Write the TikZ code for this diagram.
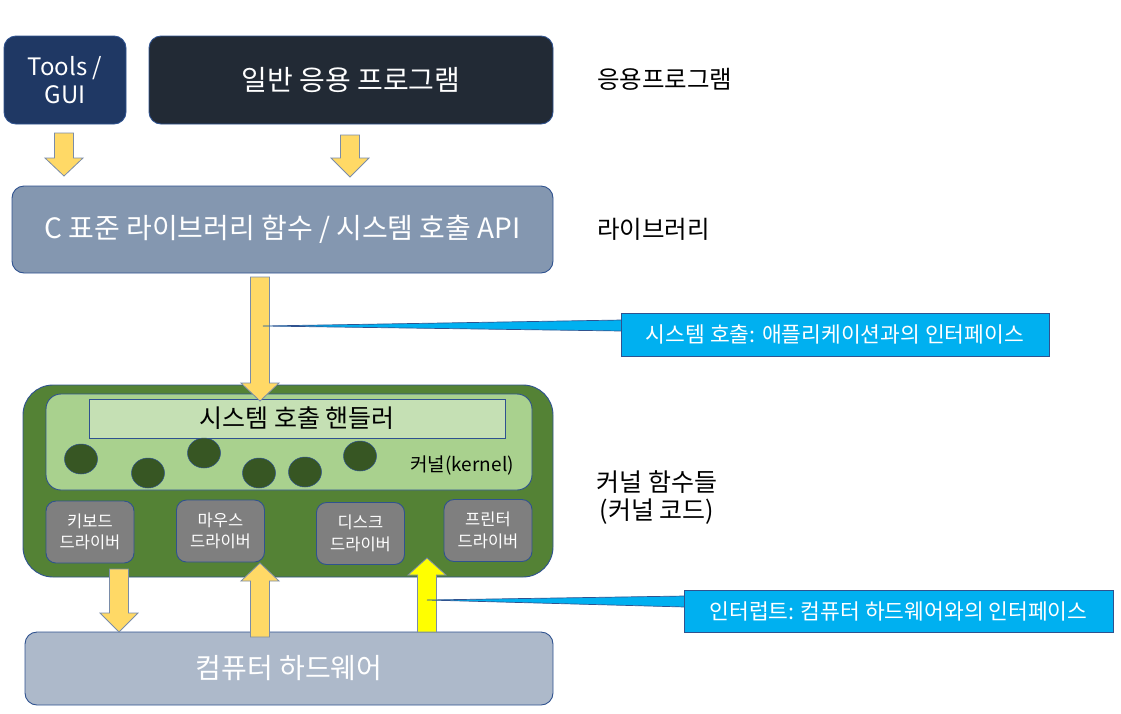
\documentclass[tikz,border=0pt]{standalone}
\usepackage{fontspec}
\setmainfont{Noto Sans CJK KR}
\usetikzlibrary{shapes.geometric}
\definecolor{toolsblue}{HTML}{1F3864}
\definecolor{appdark}{HTML}{222A35}
\definecolor{libgray}{HTML}{8497B0}
\definecolor{kgreen}{HTML}{548235}
\definecolor{igreen}{HTML}{A9D18E}
\definecolor{hgreen}{HTML}{C5E0B4}
\definecolor{dgreen}{HTML}{375623}
\definecolor{drvgray}{HTML}{7F7F7F}
\definecolor{hwgray}{HTML}{ADB9CA}
\definecolor{ayellow}{HTML}{FFD966}
\definecolor{byellow}{HTML}{FFFF00}
\definecolor{aborder}{HTML}{7A8CA8}
\definecolor{callblue}{HTML}{00B0F0}
\definecolor{edgeblue}{HTML}{2F528F}
\newcommand\fs[2]{\fontsize{#1pt}{#2\dimexpr#1pt\relax}\selectfont}
\newcommand\blkarrow[5]{%
  \draw[arrowline, fill=#5] (#1-9.5,#2) -- (#1+9.5,#2) -- (#1+9.5,#3) -- (#1+19,#3) -- (#1,#4) -- (#1-19,#3) -- (#1-9.5,#3) -- cycle;}
\begin{document}
\begin{tikzpicture}[x=1pt,y=-1pt,
  box/.style={draw=edgeblue, line width=0.9pt, rounded corners=12pt, inner sep=0pt, align=center, text=white},
  drv/.style={box, fill=drvgray, rounded corners=10pt, minimum width=88pt, minimum height=62pt, font=\fs{16.5}{1.3}, text=white},
  lbl/.style={inner sep=0pt, text=black, font=\fs{24.5}{1.2}},
  arrowline/.style={draw=aborder, line width=0.8pt},
  callbox/.style={draw=edgeblue, line width=1pt, fill=callblue, inner sep=0pt, text=white, font=\fs{21.5}{1.2}},
  wedge/.style={fill=callblue, draw=edgeblue, line width=0.7pt},
  dot/.style={ellipse, fill=dgreen, draw=edgeblue, line width=0.5pt, minimum width=33pt, minimum height=30pt, inner sep=0pt}]
\useasboundingbox (0,0) rectangle (1121,713);

% top row
\node[box, fill=toolsblue, minimum width=122pt, minimum height=88pt, font=\fs{24}{1.15}] (tools) at (65,80) {Tools /\\GUI};
\node[box, fill=appdark, minimum width=404pt, minimum height=88pt, font=\fs{28}{1.2}] (app) at (351,80) {일반 응용 프로그램};
\node[lbl, anchor=west] (lapp) at (597,79) {응용프로그램};

% arrows to library
\blkarrow{64}{133}{158}{176}{ayellow}
\blkarrow{350}{135}{158}{177}{ayellow}

% library
\node[box, fill=libgray, minimum width=541pt, minimum height=87pt, font=\fs{28}{1.2}] (lib) at (282.5,229.5) {C 표준 라이브러리 함수 / 시스템 호출 API};
\node[lbl, anchor=west] (llib) at (597,229) {라이브러리};

% callout 1
\coordinate (c1tip) at (263,326);

% kernel
\node[box, fill=kgreen, rounded corners=30pt, minimum width=530pt, minimum height=192pt] (kernel) at (288,481) {};
\node[box, fill=igreen, rounded corners=15pt, minimum width=486pt, minimum height=96pt] (inner) at (289,442) {};
\node[draw=edgeblue, line width=0.7pt, fill=hgreen, minimum width=416pt, minimum height=39pt, inner sep=0pt, font=\fs{25}{1.2}] (handler) at (297,418.5) {시스템 호출 핸들러};
\blkarrow{260}{277}{383}{401}{ayellow}
\draw[wedge] (c1tip) -- (622,320) -- (622,331) -- cycle;
\node[callbox, minimum width=428pt, minimum height=43pt] (call1) at (835,334.5) {시스템 호출: 애플리케이션과의 인터페이스};
\node[dot] (d1) at (81,459) {};
\node[dot] (d2) at (148,473) {};
\node[dot] (d3) at (204,453) {};
\node[dot] (d4) at (259,473) {};
\node[dot] (d5) at (305,472) {};
\node[dot] (d6) at (360,456) {};
\node[inner sep=0pt, anchor=east, font=\fs{19}{1.2}] (kname) at (514,465) {커널(kernel)};

% drivers
\node[drv] (kbd) at (90,532) {키보드\\드라이버};
\node[drv] (mouse) at (220.5,531) {마우스\\드라이버};
\node[drv] (disk) at (360.5,533.5) {디스크\\드라이버};
\node[drv] (prn) at (488,530.5) {프린터\\드라이버};

\node[lbl, align=center, font=\fs{25}{1.15}] (lker) at (657,497.5) {커널 함수들\\(커널 코드)};

% hardware
\node[box, fill=hwgray, minimum width=528pt, minimum height=73pt, font=\fs{28}{1.2}] (hw) at (289,668.5) {컴퓨터 하드웨어};

% kernel <-> hardware arrows
\blkarrow{119}{569}{613}{632}{ayellow}
\blkarrow{260}{637}{581}{563}{ayellow}
\blkarrow{427}{632}{575}{558}{byellow}

% callout 2
\coordinate (c2tip) at (427,600);
\draw[wedge] (c2tip) -- (685,596) -- (685,607) -- cycle;
\node[callbox, minimum width=429pt, minimum height=42pt] (call2) at (898.5,611) {인터럽트: 컴퓨터 하드웨어와의 인터페이스};
\end{tikzpicture}
\end{document}
